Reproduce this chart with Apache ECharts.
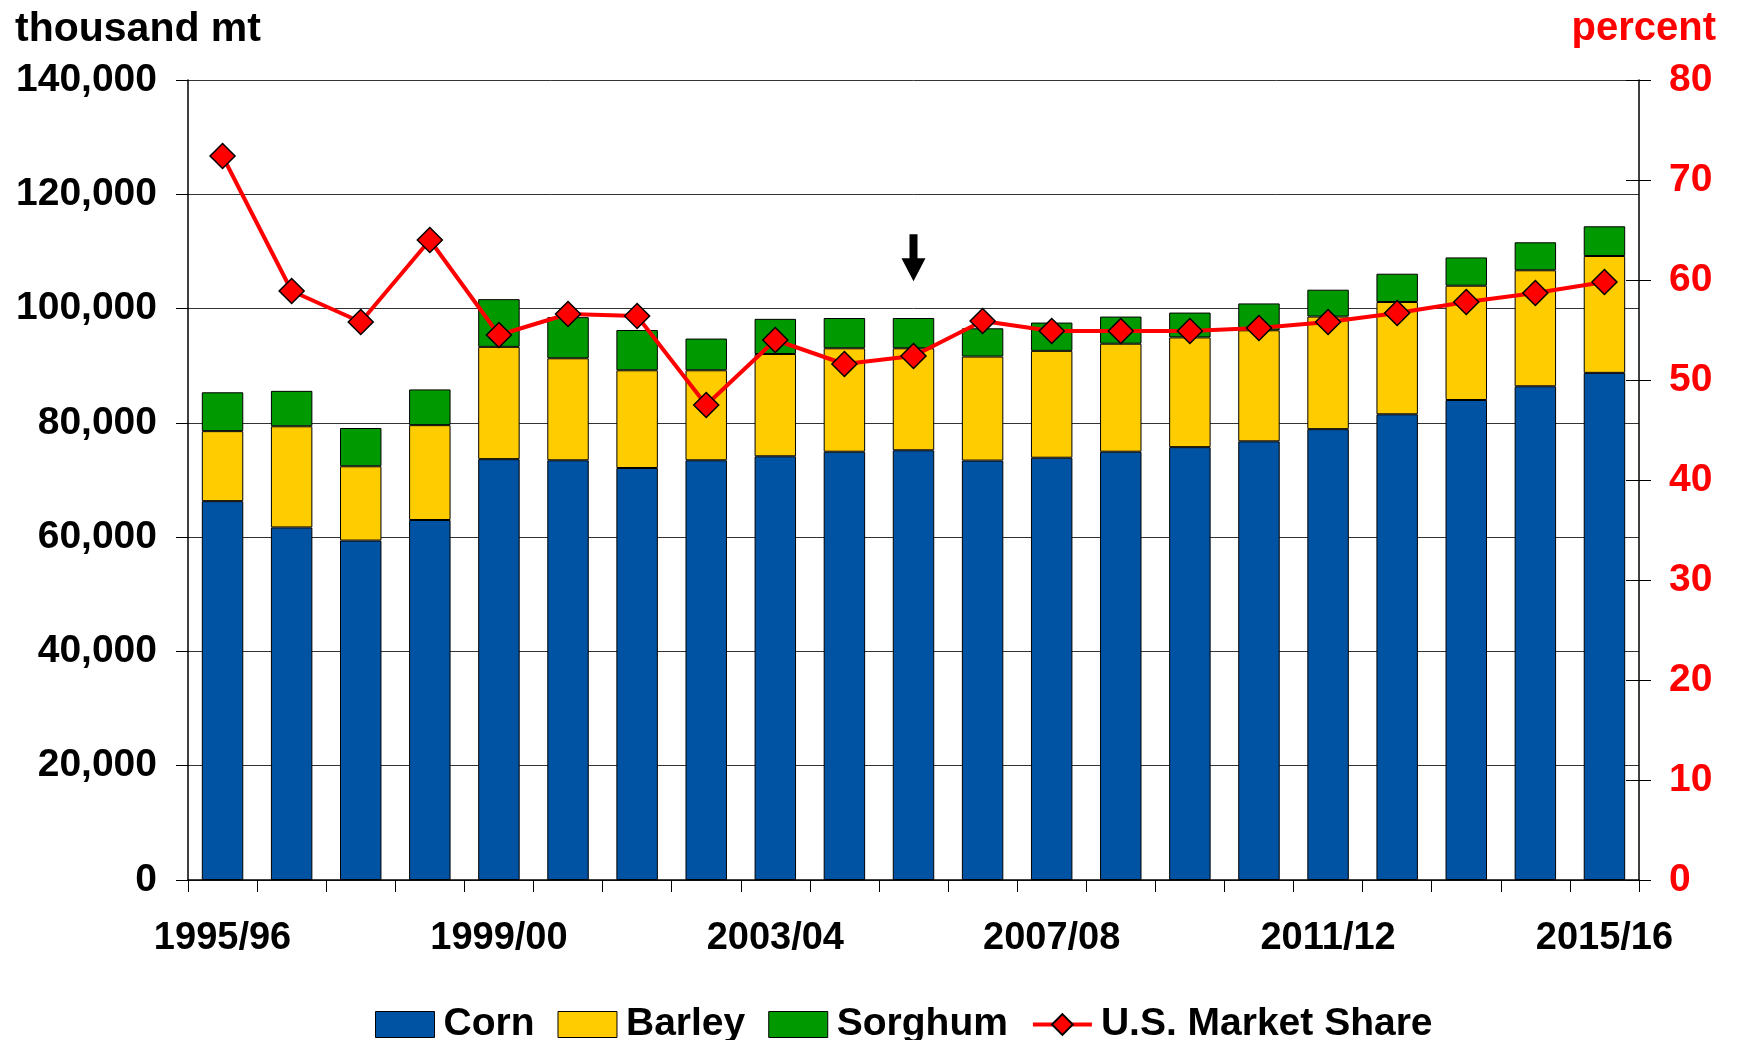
<!DOCTYPE html>
<html>
<head>
<meta charset="utf-8">
<script src="https://cdn.jsdelivr.net/npm/echarts@6/dist/echarts.min.js"></script>
<style>
html,body{margin:0;padding:0;background:#fff;}
#chart{width:1743px;height:1040px;}
</style>
</head>
<body>
<div id="chart"></div>
<script>
const categories = ['1995/96','1996/97','1997/98','1998/99','1999/00','2000/01','2001/02','2002/03','2003/04','2004/05','2005/06','2006/07','2007/08','2008/09','2009/10','2010/11','2011/12','2012/13','2013/14','2014/15','2015/16'];
const corn    = [66300,61700,59400,63000,73650,73450,72100,73450,74150,74950,75200,73400,73900,74950,75750,76770,78900,81500,84000,86400,88750];
const barley  = [12250,17700,13000,16600,19650,17850,17100,15750,17900,18100,17850,18200,18700,18900,19200,19430,19700,19650,20000,20300,20450];
const sorghum = [6800,6200,6700,6250,8350,7200,7050,5550,6150,5300,5300,4950,4950,4750,4350,4700,4700,4950,4950,4900,5200];
const marketShare = [72.4,58.9,55.8,64.0,54.5,56.6,56.4,47.5,54.0,51.6,52.4,55.9,54.9,54.9,54.9,55.2,55.8,56.7,57.8,58.7,59.8];
const leftTicks = {min:0, max:140000, interval:20000};
const rightTicks = {min:0, max:80, interval:10};
const arrowAt = ['2005/06', 108900];

const FONT = 'Liberation Sans, Arial, sans-serif';
const chart = echarts.init(document.getElementById('chart'));
const barBorder = {borderColor:'#000', borderWidth:1};

chart.setOption({
  animation:false,
  backgroundColor:'#fff',
  title:[
    {text:'thousand mt', left:10, top:4, textStyle:{fontFamily:FONT, fontWeight:'bold', fontSize:41, color:'#000'}},
    {text:'percent', right:22, top:4, textStyle:{fontFamily:FONT, fontWeight:'bold', fontSize:40, color:'#FF0000'}}
  ],
  grid:{left:188, right:104, top:80, bottom:160, containLabel:false},
  legend:{
    left:370, top:1000, itemWidth:59, itemHeight:26, itemGap:23,
    textStyle:{fontFamily:FONT, fontWeight:'bold', fontSize:39, color:'#000', padding:[0,0,0,4]},
    data:[
      {name:'Corn', icon:'rect', itemStyle:{borderColor:'#000', borderWidth:1}},
      {name:'Barley', icon:'rect', itemStyle:{borderColor:'#000', borderWidth:1}},
      {name:'Sorghum', icon:'rect', itemStyle:{borderColor:'#000', borderWidth:1}},
      {name:'U.S. Market Share', lineStyle:{width:4, color:'#FF0000'}}
    ]
  },
  xAxis:{
    type:'category', data:categories, boundaryGap:true,
    axisLine:{lineStyle:{color:'#000', width:1.5}},
    axisTick:{show:true, interval:0, length:12, lineStyle:{color:'#000', width:1}},
    axisLabel:{interval:3, margin:40, fontFamily:FONT, fontWeight:'bold', fontSize:38, color:'#000'}
  },
  yAxis:[
    {type:'value', min:leftTicks.min, max:leftTicks.max, interval:leftTicks.interval, position:'left',
     axisLine:{show:true, lineStyle:{color:'#000', width:1.5}},
     axisTick:{show:true, length:12, lineStyle:{color:'#000'}},
     splitLine:{show:true, lineStyle:{color:'#333', width:1}},
     axisLabel:{margin:31, fontFamily:FONT, fontWeight:'bold', fontSize:39, color:'#000',
       formatter:v=>v.toLocaleString('en-US')}},
    {type:'value', min:rightTicks.min, max:rightTicks.max, interval:rightTicks.interval, position:'right',
     axisLine:{show:true, lineStyle:{color:'#000', width:1.5}},
     axisTick:{show:true, length:12, lineStyle:{color:'#000'}},
     splitLine:{show:false},
     axisLabel:{margin:30, fontFamily:FONT, fontWeight:'bold', fontSize:39, color:'#FF0000'}},
    {type:'value', min:rightTicks.min, max:rightTicks.max, interval:rightTicks.interval, position:'right',
     axisLine:{show:false}, axisTick:{show:true, inside:true, length:13, lineStyle:{color:'#000'}},
     splitLine:{show:false}, axisLabel:{show:false}}
  ],
  series:[
    {name:'Corn', type:'bar', stack:'g', data:corn, barWidth:'60%', yAxisIndex:0,
     itemStyle:Object.assign({color:'#0052A3'}, barBorder),
     markPoint:{
       symbol:'path://M8,0 L16,0 L16,24 L24,24 L12,47 L0,24 L8,24 Z',
       symbolSize:[24,47], symbolKeepAspect:false,
       itemStyle:{color:'#000'}, label:{show:false},
       data:[{coord:arrowAt}]
     }},
    {name:'Barley', type:'bar', stack:'g', data:barley, yAxisIndex:0,
     itemStyle:Object.assign({color:'#FFCC00'}, barBorder)},
    {name:'Sorghum', type:'bar', stack:'g', data:sorghum, yAxisIndex:0,
     itemStyle:Object.assign({color:'#009900'}, barBorder)},
    {name:'U.S. Market Share', type:'line', yAxisIndex:1, data:marketShare,
     symbol:'diamond', symbolSize:25,
     lineStyle:{color:'#FF0000', width:4},
     itemStyle:{color:'#FF0000', borderColor:'#000', borderWidth:1.5}, z:5}
  ]
});
</script>
</body>
</html>
